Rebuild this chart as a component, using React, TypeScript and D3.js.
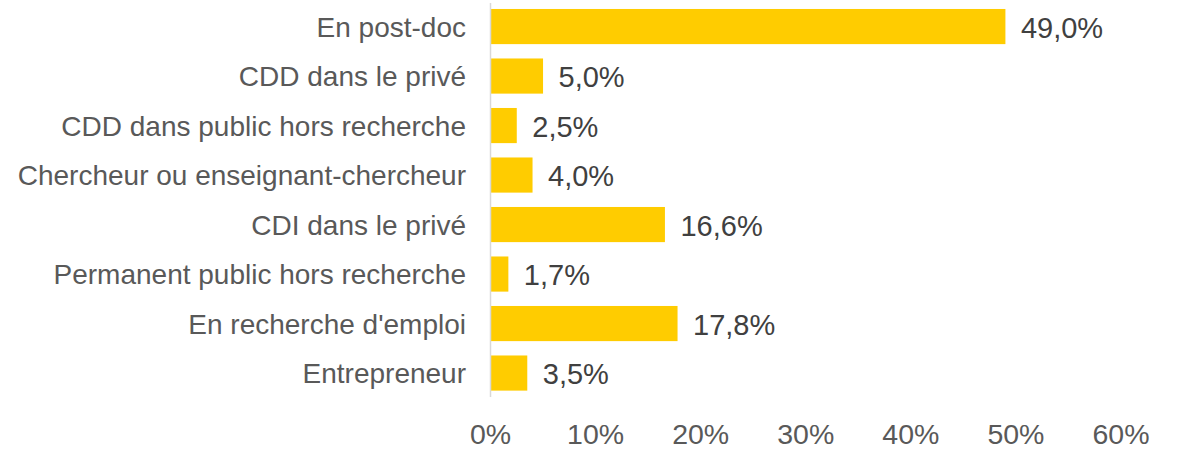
import React, { useEffect, useRef } from "react";
import * as d3 from "d3";

const categories = [
  "En post-doc",
  "CDD dans le privé",
  "CDD dans public hors recherche",
  "Chercheur ou enseignant-chercheur",
  "CDI dans le privé",
  "Permanent public hors recherche",
  "En recherche d'emploi",
  "Entrepreneur",
];

const values = [49.0, 5.0, 2.5, 4.0, 16.6, 1.7, 17.8, 3.5];

const xTicks = [0, 10, 20, 30, 40, 50, 60];

const W = 1178;
const H = 453;
const FONT = "'Liberation Sans', Arial, sans-serif";

const App = () => {
  const ref = useRef<SVGSVGElement>(null);

  useEffect(() => {
    const svg = d3.select(ref.current);
    svg.selectAll("*").remove();

    const x = d3.scaleLinear().domain([0, 60]).range([490.5, 1121]);
    const y = d3
      .scaleBand()
      .domain(categories)
      .range([1.8, 397.8])
      .paddingInner(0.29)
      .paddingOuter(0.145);

    const fmt = (v: number) => v.toFixed(1).replace(".", ",") + "%";

    // bars
    svg
      .append("g")
      .selectAll("rect")
      .data(values)
      .enter()
      .append("rect")
      .attr("x", x(0))
      .attr("y", (d, i) => y(categories[i])!)
      .attr("width", (d) => x(d) - x(0))
      .attr("height", y.bandwidth())
      .attr("fill", "#FFCC00");

    // vertical axis line
    svg
      .append("line")
      .attr("x1", x(0))
      .attr("x2", x(0))
      .attr("y1", 3)
      .attr("y2", 397)
      .attr("stroke", "#D9D9D9")
      .attr("stroke-width", 1.5);

    // category labels
    svg
      .append("g")
      .selectAll("text")
      .data(categories)
      .enter()
      .append("text")
      .text((d) => d)
      .attr("x", 466)
      .attr("y", (d) => y(d)! + y.bandwidth() / 2)
      .attr("dy", "0.36em")
      .attr("text-anchor", "end")
      .attr("font-family", FONT)
      .attr("font-size", 28)
      .attr("fill", "#595959");

    // value labels
    svg
      .append("g")
      .selectAll("text")
      .data(values)
      .enter()
      .append("text")
      .text((d) => fmt(d))
      .attr("x", (d) => x(d) + 15.5)
      .attr("y", (d, i) => y(categories[i])! + y.bandwidth() / 2)
      .attr("dy", "0.38em")
      .attr("font-family", FONT)
      .attr("font-size", 29)
      .attr("fill", "#404040");

    // x tick labels
    svg
      .append("g")
      .selectAll("text")
      .data(xTicks)
      .enter()
      .append("text")
      .text((d) => d + "%")
      .attr("x", (d) => x(d))
      .attr("y", 444)
      .attr("text-anchor", "middle")
      .attr("font-family", FONT)
      .attr("font-size", 28.5)
      .attr("fill", "#595959");
  }, []);

  return (
    <svg
      ref={ref}
      width={W}
      height={H}
      style={{ position: "absolute", left: 0, top: 0, background: "#fff" }}
    />
  );
};

export default App;
